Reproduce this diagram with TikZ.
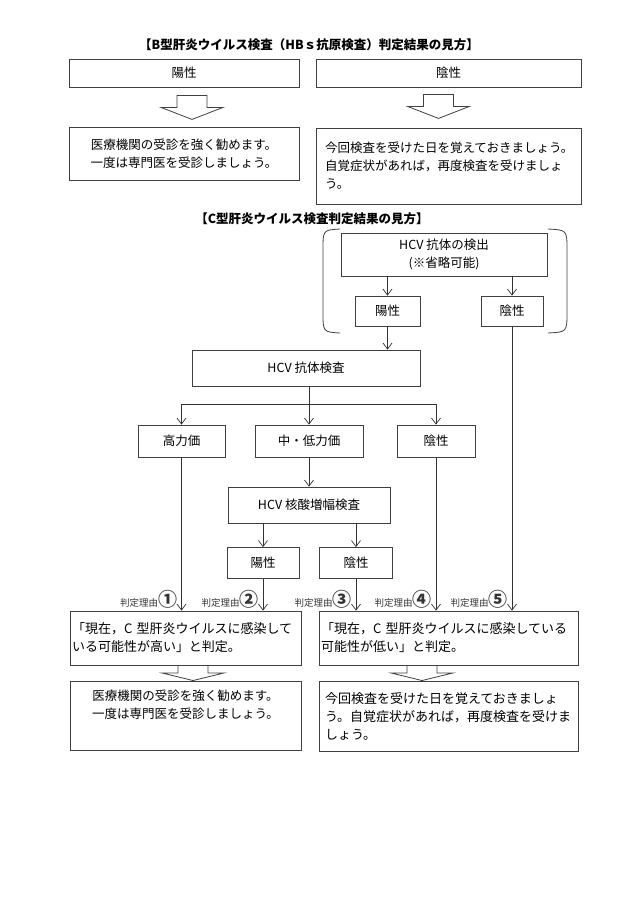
\documentclass[tikz,border=0pt]{standalone}
\usepackage{fontspec}
\setmainfont{Noto Sans CJK JP}
\usetikzlibrary{arrows.meta, calc}

\begin{document}
\begin{tikzpicture}[
    x=1pt, y=-1pt,
    font=\fontsize{12.5}{18}\selectfont,
    box/.style={rectangle, draw=black!75, line width=0.8pt, fill=white,
                align=center, inner sep=0pt},
    note/.style={box, align=left, inner xsep=9pt},
    ttl/.style={font=\fontsize{12.5}{14}\selectfont\bfseries},
    arr/.style={-{Straight Barb[length=6pt, width=9pt]}, line width=0.7pt, black!80},
    brk/.style={line width=0.8pt, black!75},
    blk/.style={draw=black!75, line width=0.8pt, fill=white, line join=miter},
    %% hollow block arrow, origin at the top of its stem
    hollow/.pic={\draw[blk] (-15,0) -- (15,0) -- (15,12) -- (31,12) -- (0,24)
                 -- (-31,12) -- (-15,12) -- cycle;},
    why/.style={anchor=south east, inner sep=0pt, xshift=-4pt, yshift=2pt,
                font=\fontsize{9.5}{10}\selectfont},
]
  \useasboundingbox (0,0) rectangle (630,903);

  %% ---- B section ----
  \node[ttl] (titleB) at (309,45) {【B型肝炎ウイルス検査（HBｓ抗原検査）判定結果の見方】};
  \node[box, minimum width=230, minimum height=28] (bpos) at (184,73) {陽性};
  \node[box, minimum width=265, minimum height=28] (bneg) at (448.5,73) {陰性};
  \node[box, minimum width=230, minimum height=53] (badv1) at (184,153.5)
       {医療機関の受診を強く勧めます。\\一度は専門医を受診しましょう。};
  \node[note, text width=247pt, minimum height=76] (badv2) at (448.5,166)
       {今回検査を受けた日を覚えておきましょう。\\自覚症状があれば，再度検査を受けましょ\\う。};

  \pic at ($(bpos.south)+(8,8)$) {hollow};
  \pic at ($(bneg.south)+(-10,7)$) {hollow};

  %% ---- C section: optional first test ----
  \node[ttl] (titleC) at (312,219) {【C型肝炎ウイルス検査判定結果の見方】};
  \node[box, minimum width=206, minimum height=43] (det) at (444,254.5)
       {HCV 抗体の検出\\(※省略可能)};
  \node[box, minimum width=65, minimum height=30] (det1) at (387.5,311) {陽性};
  \node[box, minimum width=62, minimum height=30] (det2) at (512,311) {陰性};
  \draw[brk] (340,229) .. controls (323,230) .. (323,250) -- (323,312)
             .. controls (323,332) .. (340,333);
  \draw[brk] (548,229) .. controls (567,230) .. (567,250) -- (567,312)
             .. controls (567,332) .. (548,333);

  %% ---- C section: main flow ----
  \node[box, minimum width=228, minimum height=36] (ab)   at (306,368) {HCV 抗体検査};
  \node[box, minimum width=87,  minimum height=32] (hi)   at (181.5,441) {高力価};
  \node[box, minimum width=108, minimum height=32] (mid)  at (309,441) {中・低力価};
  \node[box, minimum width=78,  minimum height=32] (neg)  at (436,441) {陰性};
  \node[box, minimum width=162, minimum height=36] (nat)  at (309,505) {HCV 核酸増幅検査};
  \node[box, minimum width=72,  minimum height=31] (nat1) at (263,563) {陽性};
  \node[box, minimum width=73,  minimum height=31] (nat2) at (356,563) {陰性};

  %% ---- judgement and advice ----
  \node[note, inner xsep=2pt, text width=227pt, minimum height=54,
        font=\fontsize{13}{18}\selectfont] (jhi) at (185.5,638)
       {「現在，C 型肝炎ウイルスに感染して\\いる可能性が高い」と判定。};
  \node[note, inner xsep=2pt, text width=255pt, minimum height=54,
        font=\fontsize{13}{18}\selectfont] (jlo) at (448.5,638)
       {「現在，C 型肝炎ウイルスに感染している\\可能性が低い」と判定。};
  \node[box, minimum width=231, minimum height=69] (adv1) at (185.5,715.5)
       {医療機関の受診を強く勧めます。\\一度は専門医を受診しましょう。\\\strut};
  \node[note, inner xsep=6pt, text width=247pt, minimum height=70,
        font=\fontsize{13}{18}\selectfont] (adv2) at (448.5,716)
       {今回検査を受けた日を覚えておきましょ\\う。自覚症状があれば，再度検査を受けま\\しょう。};

  \pic[yscale=0.63] at ($(jhi.south)+(7.5,0)$) {hollow};
  \pic[yscale=0.63] at ($(jlo.south)+(-26.5,0)$) {hollow};

  %% ---- connectors ----
  \draw[arr] (det.south -| det1.north) -- (det1.north);
  \draw[arr] (det.south -| det2.north) -- (det2.north);
  \draw[arr] (det1.south) -- (det1.south |- ab.north);

  \coordinate (fork) at ($(ab.south -| mid.north)+(0,18)$);
  \draw[arr] (ab.south -| mid.north) -- (mid.north);
  \draw[arr] (fork) -| (hi.north);
  \draw[arr] (fork) -| (neg.north);
  \draw[arr] (mid.south) -- (nat.north);
  \draw[arr] (nat.south -| nat1.north) -- (nat1.north);
  \draw[arr] (nat.south -| nat2.north) -- (nat2.north);

  %% ---- reasons 1-5 ----
  \draw[arr] (hi.south) -- (hi.south |- jhi.north)
        node[why] {判定理由{\fontsize{19}{19}\selectfont\bfseries ①}};
  \draw[arr] (nat1.south) -- (nat1.south |- jhi.north)
        node[why] {判定理由{\fontsize{19}{19}\selectfont\bfseries ②}};
  \draw[arr] (nat2.south) -- (nat2.south |- jlo.north)
        node[why] {判定理由{\fontsize{19}{19}\selectfont\bfseries ③}};
  \draw[arr] (neg.south) -- (neg.south |- jlo.north)
        node[why] {判定理由{\fontsize{19}{19}\selectfont\bfseries ④}};
  \draw[arr] (det2.south) -- (det2.south |- jlo.north)
        node[why] {判定理由{\fontsize{19}{19}\selectfont\bfseries ⑤}};

\end{tikzpicture}
\end{document}
